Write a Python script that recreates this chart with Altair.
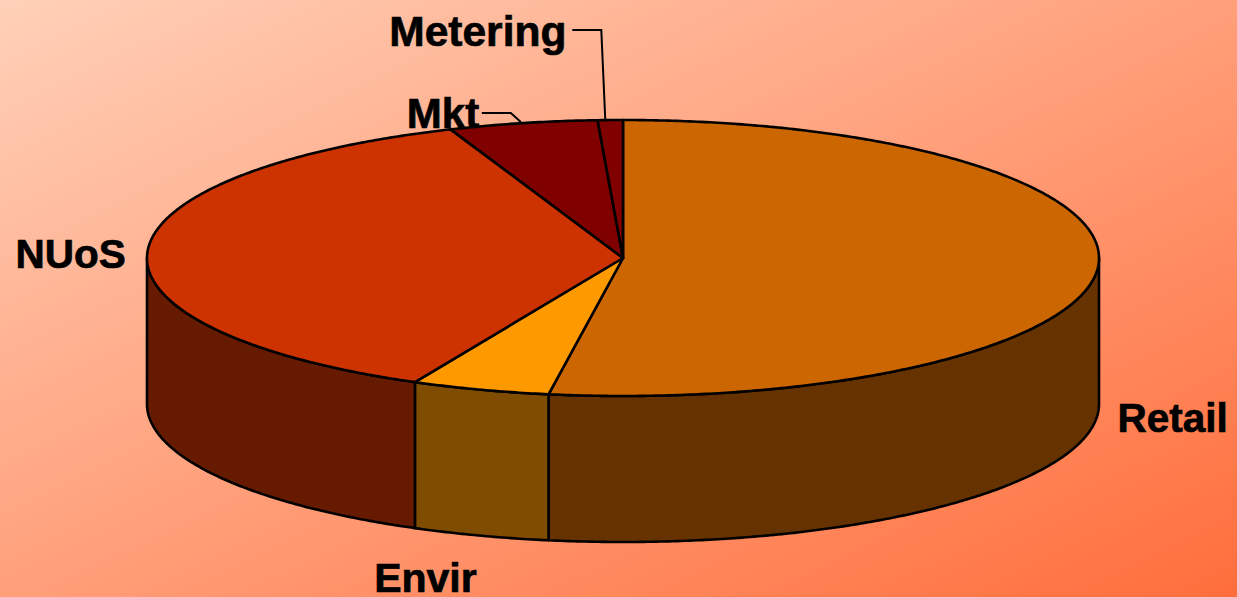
import math
import altair as alt

# Slice shares in percent, clockwise from twelve o'clock
categories = ["Retail", "Envir", "NUoS", "Mkt", "Metering"]
shares = [52.5, 4.7, 36.9, 5.05, 0.85]
top_colors = ["#CC6600", "#FF9900", "#CC3300", "#800000", "#800000"]
wall_colors = ["#663300", "#804D00", "#661A00", "#400000", "#400000"]
label_sizes = [40.5, 41, 40.5, 42, 42.5]

# Page and tilted-disc geometry, in pixels
W, H = 1237, 597
CX, CY, RX, RY, DEPTH = 623, 258, 476, 138, 146

# Label placement relative to the rim point at each slice's mid-angle
label_offsets = {
    "Retail": (20, 163),
    "Envir": (-106, 202),
    "NUoS": (-132, 16),
    "Mkt": (-116, 5),
    "Metering": (-221, -74),
}
# Elbow leaders: rim shift, then elbow and end relative to the rim point
leaders = {
    "Mkt": [(-2, -1), (-12, -10), (-41, -10)],
    "Metering": [(-5, 0), (-9, -90), (-38, -90)],
}


def rim(deg, drop=0.0):
    t = math.radians(deg)
    return [CX + RX * math.sin(t), CY - RY * math.cos(t) + drop]


def arc(a, b, drop=0.0):
    steps = max(2, int(abs(b - a) * 2))
    return [rim(a + (b - a) * i / steps, drop) for i in range(steps + 1)]


features = []


def add(geom_type, coords, fill, order):
    features.append({
        "type": "Feature",
        "geometry": {"type": geom_type, "coordinates": coords},
        "properties": {"fill": fill, "order": order},
    })


edges = []
start = 0.0
for share in shares:
    edges.append((start, start + share * 3.6))
    start += share * 3.6

# Side walls exist only on the near half of the disc
for (a, b), wall in zip(edges, wall_colors):
    lo, hi = max(a, 90), min(b, 270)
    if lo < hi:
        ring = arc(lo, hi) + arc(hi, lo, DEPTH)
        add("Polygon", [ring + [ring[0]]], wall, 0)

# Top face wedges
for (a, b), top in zip(edges, top_colors):
    ring = [[CX, CY]] + arc(a, b) + [[CX, CY]]
    add("Polygon", [ring], top, 1)

label_rows = []
line_rows = []
for name, size, (a, b) in zip(categories, label_sizes, edges):
    p = rim((a + b) / 2)
    dx, dy = label_offsets[name]
    label_rows.append({"name": name, "size": size, "px": p[0] + dx, "py": p[1] + dy})
    if name in leaders:
        pts = [[p[0] + ox, p[1] + oy] for ox, oy in leaders[name]]
        line_rows.append({"type": "Feature",
                          "geometry": {"type": "LineString", "coordinates": pts},
                          "properties": {"name": name}})

backdrop = alt.Chart(alt.Data(values=[{"k": 0}])).mark_rect(
    fill=alt.LinearGradient(
        gradient="linear", x1=0, y1=0, x2=1, y2=1,
        stops=[alt.GradientStop(offset=0, color="#FFD0B8"),
               alt.GradientStop(offset=1, color="#FF6E3C")],
    )
).encode(x=alt.value(0), x2=alt.value(W), y=alt.value(0), y2=alt.value(H))

identity = dict(type="identity", scale=1, translate=[0, 0])

pie = alt.Chart(alt.InlineData(values=features)).mark_geoshape(
    stroke="black", strokeWidth=2.6, strokeJoin="round"
).encode(fill=alt.Fill("properties.fill:N", scale=None),
         order=alt.Order("properties.order:Q")).project(**identity)

leader_lines = alt.Chart(alt.InlineData(values=line_rows)).mark_geoshape(
    filled=False, stroke="black", strokeWidth=2
).project(**identity)

labels = alt.Chart(alt.Data(values=label_rows)).mark_text(
    font="Liberation Sans", fontWeight="bold", color="black",
    stroke="black", strokeWidth=0.7,
    align="left", baseline="alphabetic",
).encode(
    longitude="px:Q", latitude="py:Q", text="name:N",
    size=alt.Size("size:Q", scale=None),
).project(**identity)

chart = alt.layer(backdrop, pie, leader_lines, labels).properties(
    width=W, height=H,
    padding=0,
    autosize=alt.AutoSizeParams(type="none"),
).configure_view(stroke=None)

chart.save("out.html", embed_options={"renderer": "svg", "actions": False})
